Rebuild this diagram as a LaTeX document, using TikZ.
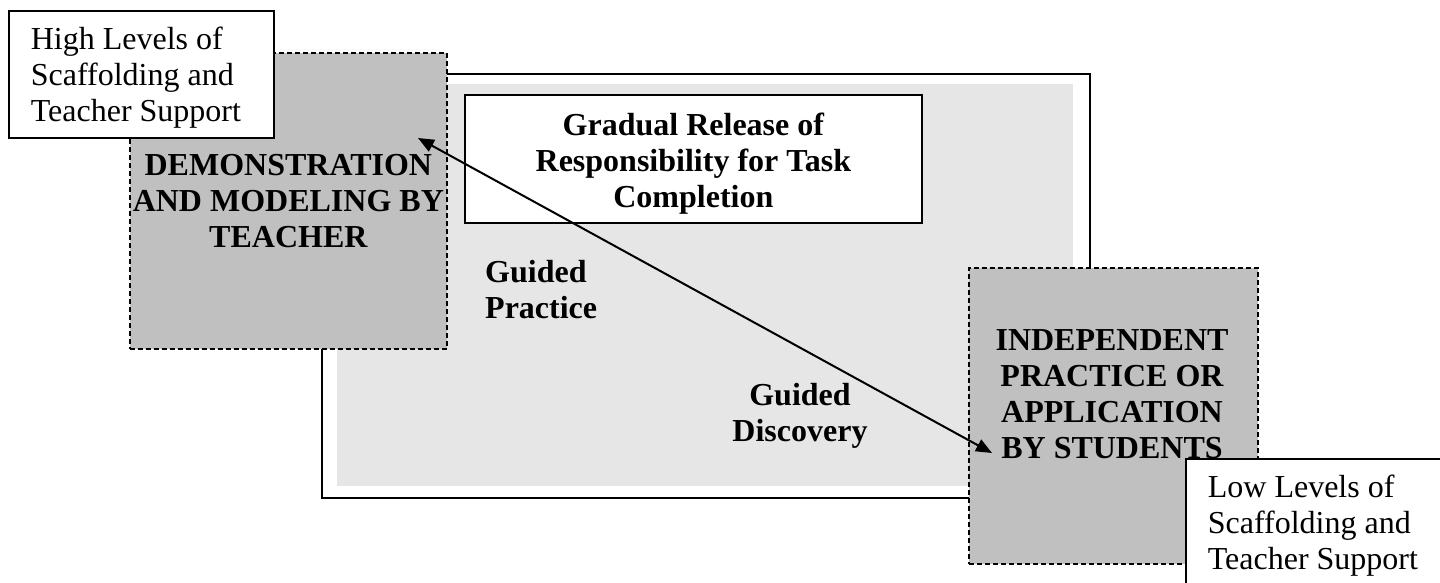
\documentclass[tikz,border=0pt]{standalone}
\usepackage{fontspec}
\setmainfont{Liberation Serif}
\usetikzlibrary{arrows.meta}
\definecolor{boxgray}{RGB}{192,192,192}
\definecolor{panelgray}{RGB}{230,230,230}
\newcommand{\diagfont}{\fontsize{32}{36}\selectfont}
\tikzset{
    plainbox/.style={draw, fill=white, line width=1.7pt, inner sep=0pt, anchor=north west},
    dashbox/.style={draw, fill=boxgray, dash pattern=on 5pt off 3pt, line width=1.7pt, inner sep=0pt, anchor=north west},
    boldtext/.style={font=\diagfont\bfseries, align=center, inner sep=0pt},
    sidenote/.style={plainbox, align=flush left, inner xsep=22pt, text width=221pt}
}

\begin{document}
\begin{tikzpicture}[x=1pt,y=-1pt,font=\diagfont]
        \useasboundingbox (0,0) rectangle (1440,582);
        \clip (0,0) rectangle (1440,582);
        % frame with the shaded panel
        \node[plainbox, line width=2.2pt, minimum width=768pt, minimum height=424pt] (frame) at (321,73) {};
        \node[fill=panelgray, inner sep=0pt, anchor=north west, minimum width=736pt, minimum height=402pt] (panel) at (337,84) {};
        \node[plainbox, boldtext, minimum width=457pt, minimum height=128pt] (title) at (464,94) {\rule{0pt}{32pt}Gradual Release of\\Responsibility for Task\\Completion};
        % teacher side
        \node[dashbox, boldtext, minimum width=317pt, minimum height=296pt] (demo) at (129,52) {DEMONSTRATION\\AND MODELING BY\\TEACHER};
        \node[sidenote, minimum height=127pt] (high) at (8,10) {\rule{0pt}{30pt}High Levels of\\Scaffolding and\\Teacher Support};
        % student side
        \node[dashbox, minimum width=289pt, minimum height=296pt] (indep) at (968,267) {};
        \node[boldtext] (indeptext) at (1112,394) {INDEPENDENT\\PRACTICE OR\\APPLICATION\\BY STUDENTS};
        \node[sidenote, minimum height=134pt] (low) at (1185,458) {Low Levels of\\Scaffolding and\\Teacher Support};
        % stages in between
        \node[boldtext, align=left, anchor=west] (practice) at (485,290) {Guided\\Practice};
        \node[boldtext] (discovery) at (800,416) {Guided\\Discovery};
        \coordinate (hiend) at (418,138);
        \coordinate (loend) at (992,453);
        \draw[line width=2pt, {Triangle[length=16pt,width=13pt]}-{Triangle[length=16pt,width=13pt]}] (hiend) -- (loend);
    \end{tikzpicture}
\end{document}
